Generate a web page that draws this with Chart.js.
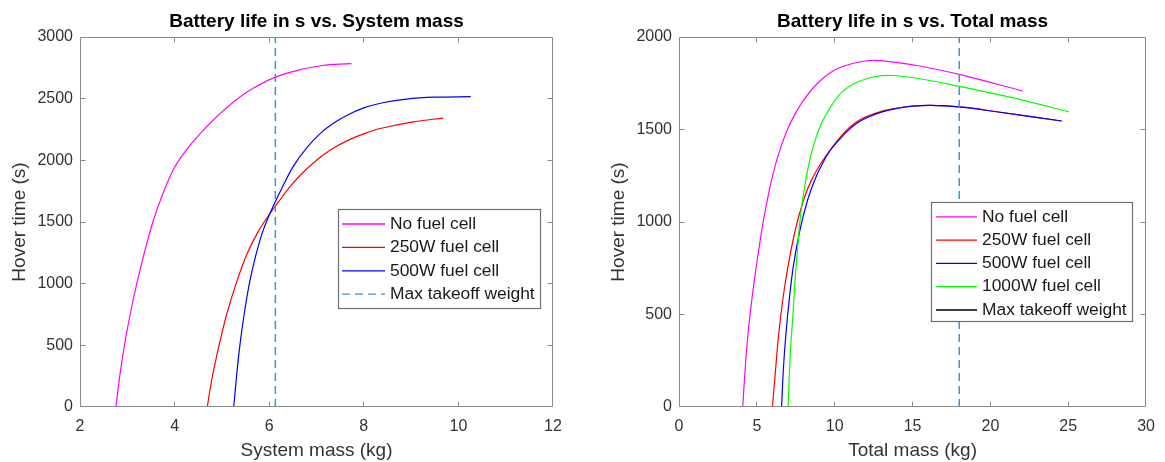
<!DOCTYPE html>
<html>
<head>
<meta charset="utf-8">
<script src="https://cdn.jsdelivr.net/npm/chart.js@4.4.0/dist/chart.umd.min.js"></script>
<style>
  html, body { margin: 0; padding: 0; background: #ffffff; }
  #wrap { position: relative; width: 1165px; height: 462px; overflow: hidden; }
  .panel { position: absolute; top: 0; width: 582px; height: 462px; }
  #p1 { left: 0; }
  #p2 { left: 583px; }
</style>
</head>
<body>
<div id="wrap">
  <div class="panel" id="p1"><canvas id="c1"></canvas></div>
  <div class="panel" id="p2"><canvas id="c2"></canvas></div>
</div>
<script>
// ---------------- Data: left chart (Battery life vs. System mass) ----------------
const sysMassNoFC  = [2.76, 2.84, 2.94, 3.06, 3.20, 3.36, 3.54, 3.70, 3.85, 3.98, 4.12, 4.26, 4.40, 4.56, 4.76, 5.00, 5.30, 5.65, 6.13, 6.60, 7.06, 7.40, 7.74];
const hoverSysNoFC = [0, 250, 500, 750, 1000, 1250, 1500, 1676, 1822, 1930, 2018, 2090, 2155, 2225, 2305, 2393, 2490, 2582, 2675, 2730, 2765, 2778, 2784];

const sysMass250   = [4.69, 4.80, 4.94, 5.10, 5.30, 5.53, 5.78, 6.00, 6.20, 6.45, 6.70, 7.00, 7.30, 7.65, 8.00, 8.35, 9.05, 9.68];
const hoverSys250  = [0, 250, 500, 750, 1000, 1240, 1430, 1560, 1665, 1790, 1895, 2000, 2085, 2160, 2215, 2258, 2312, 2343];

const sysMass500   = [5.25, 5.31, 5.38, 5.47, 5.58, 5.71, 5.87, 6.05, 6.25, 6.50, 6.80, 7.10, 7.40, 7.70, 8.00, 8.40, 8.90, 9.50, 10.26];
const hoverSys500  = [0, 250, 500, 750, 1000, 1220, 1430, 1600, 1760, 1945, 2105, 2225, 2310, 2375, 2425, 2467, 2497, 2512, 2516];

const sysMaxTakeoff = 6.13;
const sysHoverRange = [0, 3000];

const sysMassTicks  = [2, 4, 6, 8, 10, 12];
const sysHoverTicks = [0, 500, 1000, 1500, 2000, 2500, 3000];
const sysSeriesNames = ['No fuel cell', '250W fuel cell', '500W fuel cell', 'Max takeoff weight'];

// ---------------- Data: right chart (Battery life vs. Total mass) ----------------
const totMassNoFC  = [4.09, 4.34, 4.55, 4.83, 5.15, 5.47, 5.98, 6.50, 7.04, 7.50, 8.00, 8.90, 10.00, 11.20, 12.10, 12.60, 14.05, 15.30, 18.00, 22.08];
const hoverTotNoFC = [0, 308, 489, 679, 865, 1030, 1240, 1395, 1515, 1590, 1659, 1750, 1822, 1858, 1872, 1874, 1862, 1846, 1798, 1708];

const totMass250   = [6.00, 6.20, 6.41, 6.70, 7.00, 7.45, 8.00, 8.50, 9.10, 9.80, 10.55, 11.30, 12.00, 13.00, 14.00, 15.00, 16.16, 18.00, 20.40, 24.58];
const hoverTot250  = [0, 200, 399, 600, 759, 950, 1119, 1225, 1315, 1400, 1478, 1535, 1568, 1598, 1615, 1626, 1630, 1622, 1596, 1546];

const totMass500   = [6.59, 6.70, 6.87, 7.08, 7.34, 7.75, 8.26, 8.75, 9.25, 9.75, 10.75, 11.40, 12.10, 13.00, 14.00, 15.00, 16.16, 18.00, 20.40, 24.58];
const hoverTot500  = [0, 200, 399, 580, 759, 950, 1119, 1234, 1322, 1391, 1486, 1533, 1565, 1594, 1614, 1626, 1630, 1622, 1596, 1546];

const totMass1000  = [7.01, 7.16, 7.31, 7.44, 7.61, 7.80, 8.07, 8.31, 8.70, 9.15, 9.80, 10.50, 11.50, 12.55, 13.62, 15.30, 18.00, 22.08, 25.04];
const hoverTot1000 = [0, 308, 488, 668, 849, 1029, 1190, 1300, 1430, 1532, 1630, 1705, 1758, 1785, 1792, 1777, 1733, 1659, 1595];

const totMaxTakeoff = 18;
const totHoverRange = [0, 2000];

const totMassTicks  = [0, 5, 10, 15, 20, 25, 30];
const totHoverTicks = [0, 500, 1000, 1500, 2000];
const totSeriesNames = ['No fuel cell', '250W fuel cell', '500W fuel cell', '1000W fuel cell', 'Max takeoff weight'];

// ---------------- helpers ----------------
const FONT = "'Liberation Sans', Arial, Helvetica, sans-serif";
const AXIS_GRAY = '#8a8a8a';
const TEXT_GRAY = '#333333';

function xy(xs, ys) { return xs.map((x, i) => ({ x: x, y: ys[i] })); }

const matlabBox = {
  id: 'matlabBox',
  afterDatasetsDraw(chart, args, o) {
    const { ctx, chartArea: a, scales: { x, y } } = chart;
    const L = 5;
    const l = Math.round(a.left) + 0.5, r = Math.round(a.right) - 0.5;
    const t = Math.round(a.top) + 0.5, b = Math.round(a.bottom) - 0.5;
    ctx.save();
    ctx.strokeStyle = o.color;
    ctx.lineWidth = 1;
    ctx.setLineDash([]);
    ctx.beginPath();
    x.ticks.forEach(tk => {
      const p = Math.floor(x.getPixelForValue(tk.value)) + 0.5;
      if (p <= l + 1 || p >= r - 1) return;
      ctx.moveTo(p, b); ctx.lineTo(p, b - L);
      ctx.moveTo(p, t); ctx.lineTo(p, t + L);
    });
    y.ticks.forEach(tk => {
      const p = Math.floor(y.getPixelForValue(tk.value)) + 0.5;
      if (p <= t + 1 || p >= b - 1) return;
      ctx.moveTo(l, p); ctx.lineTo(l + L, p);
      ctx.moveTo(r, p); ctx.lineTo(r - L, p);
    });
    ctx.rect(l, t, r - l, b - t);
    ctx.stroke();
    ctx.restore();
  }
};

const boxLegend = {
  id: 'boxLegend',
  afterDraw(chart, args, o) {
    const { ctx } = chart;
    ctx.save();
    ctx.fillStyle = '#ffffff';
    ctx.fillRect(o.left, o.top, o.right - o.left, o.bottom - o.top);
    ctx.strokeStyle = o.borderColor;
    ctx.lineWidth = 1.2;
    ctx.strokeRect(Math.round(o.left) + 0.5, Math.round(o.top) + 0.5,
                   Math.round(o.right - o.left), Math.round(o.bottom - o.top));
    ctx.font = o.font;
    ctx.textBaseline = 'middle';
    ctx.textAlign = 'left';
    chart.data.datasets.forEach((ds, i) => {
      const yy = o.firstRow + i * o.rowGap;
      const ov = (o.overrides || {})[i] || {};
      ctx.strokeStyle = ov.color || ds.borderColor;
      ctx.lineWidth = 1.3;
      ctx.setLineDash(ov.dash || ds.borderDash || []);
      ctx.beginPath();
      ctx.moveTo(o.lineX0, yy);
      ctx.lineTo(o.lineX1, yy);
      ctx.stroke();
      ctx.setLineDash([]);
      ctx.fillStyle = o.textColor;
      ctx.fillText(ds.label, o.textX, yy);
    });
    ctx.restore();
  }
};

function lineDs(label, pts, color, order) {
  return {
    label: label, data: pts, borderColor: color, backgroundColor: color,
    borderWidth: 1.2, pointRadius: 0, pointHoverRadius: 0,
    tension: 0.35, fill: false, order: order
  };
}
function dashDs(label, xv, range) {
  return {
    label: label, data: [{ x: xv, y: range[0] }, { x: xv, y: range[1] }],
    borderColor: 'rgb(58,148,214)', backgroundColor: 'rgb(58,148,214)',
    borderWidth: 1.5, borderDash: [8, 5], pointRadius: 0, pointHoverRadius: 0,
    tension: 0, fill: false, order: 0
  };
}

function makeChart(id, cfg) {
  return new Chart(document.getElementById(id), {
    type: 'line',
    data: { datasets: cfg.datasets },
    plugins: [matlabBox, boxLegend],
    options: {
      responsive: true,
      maintainAspectRatio: false,
      animation: false,
      events: [],
      layout: { padding: { left: 0, right: cfg.padRight, top: 0, bottom: 0 } },
      scales: {
        x: {
          type: 'linear', min: cfg.xTicks[0], max: cfg.xTicks[cfg.xTicks.length - 1],
          afterBuildTicks: s => { s.ticks = cfg.xTicks.map(v => ({ value: v })); },
          afterFit: s => { s.height = 55; },
          grid: { display: false, drawTicks: false },
          border: { display: false },
          ticks: { color: TEXT_GRAY, font: { family: FONT, size: 16 }, padding: 10,
                   maxRotation: 0, autoSkip: false, callback: v => String(v) },
          title: { display: true, text: cfg.xTitle, color: TEXT_GRAY,
                   font: { family: FONT, size: 19 }, padding: { top: 0, bottom: 0 } }
        },
        y: {
          type: 'linear', min: cfg.yTicks[0], max: cfg.yTicks[cfg.yTicks.length - 1],
          afterBuildTicks: s => { s.ticks = cfg.yTicks.map(v => ({ value: v })); },
          afterFit: s => { s.width = cfg.yWidth; },
          grid: { display: false, drawTicks: false },
          border: { display: false },
          ticks: { color: TEXT_GRAY, font: { family: FONT, size: 16 }, padding: 7,
                   autoSkip: false, callback: v => String(v) },
          title: { display: true, text: cfg.yTitle, color: TEXT_GRAY,
                   font: { family: FONT, size: 19 }, padding: { top: cfg.yTitlePad, bottom: 0 } }
        }
      },
      plugins: {
        legend: { display: false },
        tooltip: { enabled: false },
        title: {
          display: true, text: cfg.title, color: '#000000', fullSize: false,
          font: { family: FONT, size: 19, weight: 'bold', lineHeight: 1 },
          padding: { top: 12, bottom: 6 }
        },
        matlabBox: { color: AXIS_GRAY },
        boxLegend: Object.assign({ font: '17.4px ' + FONT, textColor: '#1a1a1a', borderColor: '#707070' }, cfg.legend)
      }
    }
  });
}

makeChart('c1', {
  title: 'Battery life in s vs. System mass',
  xTitle: 'System mass (kg)', yTitle: 'Hover time (s)',
  xTicks: sysMassTicks, yTicks: sysHoverTicks,
  yWidth: 80, padRight: 29, yTitlePad: 8,
  datasets: [
    lineDs(sysSeriesNames[0], xy(sysMassNoFC, hoverSysNoFC), '#ff00ff', 4),
    lineDs(sysSeriesNames[1], xy(sysMass250, hoverSys250), '#ff0000', 3),
    lineDs(sysSeriesNames[2], xy(sysMass500, hoverSys500), '#0000ff', 2),
    dashDs(sysSeriesNames[3], sysMaxTakeoff, sysHoverRange)
  ],
  legend: { left: 338, right: 540, top: 209, bottom: 308,
            lineX0: 342, lineX1: 385, textX: 390, firstRow: 224, rowGap: 23.4 }
});

makeChart('c2', {
  title: 'Battery life in s vs. Total mass',
  xTitle: 'Total mass (kg)', yTitle: 'Hover time (s)',
  xTicks: totMassTicks, yTicks: totHoverTicks,
  yWidth: 96, padRight: 12, yTitlePad: 24,
  datasets: [
    lineDs(totSeriesNames[0], xy(totMassNoFC, hoverTotNoFC), '#ff00ff', 5),
    lineDs(totSeriesNames[1], xy(totMass250, hoverTot250), '#ff0000', 4),
    lineDs(totSeriesNames[2], xy(totMass500, hoverTot500), '#0000ff', 3),
    lineDs(totSeriesNames[3], xy(totMass1000, hoverTot1000), '#00ff00', 2),
    dashDs(totSeriesNames[4], totMaxTakeoff, totHoverRange)
  ],
  legend: { left: 348, right: 549, top: 202, bottom: 321,
            lineX0: 353, lineX1: 394, textX: 399, firstRow: 216.8, rowGap: 23.3,
            overrides: { 4: { color: '#000000', dash: [] } } }
});
</script>
</body>
</html>
